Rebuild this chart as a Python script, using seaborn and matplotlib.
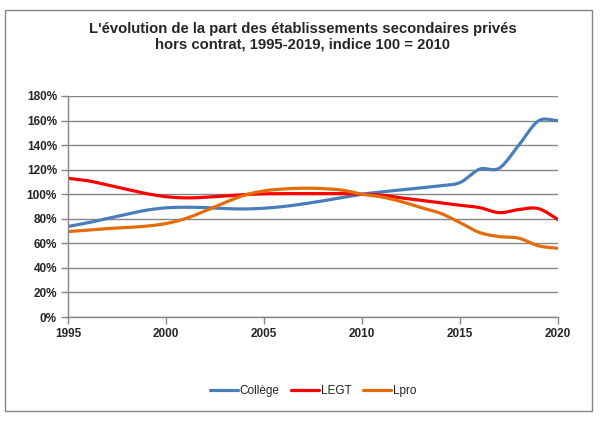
import numpy as np
import pandas as pd
import matplotlib
matplotlib.use("Agg")
import matplotlib.pyplot as plt
import matplotlib.patches as patches
from matplotlib.ticker import PercentFormatter
import seaborn as sns

years = list(range(1995, 2021))
college = [73.7, 76.7, 80.2, 83.7, 87.0, 88.9, 89.4, 89.1, 88.3, 88.0, 88.6,
           90.0, 92.1, 94.6, 97.3, 100.0, 101.9, 103.5, 105.2, 107.0, 109.5,
           120.4, 121.2, 140.0, 159.7, 160.0]
legt = [113.0, 111.0, 107.6, 104.0, 100.5, 98.0, 97.0, 97.5, 98.6, 99.7, 100.3,
        100.5, 100.5, 100.5, 100.5, 100.0, 99.2, 97.0, 95.1, 93.0, 91.0,
        89.1, 85.0, 87.5, 88.3, 79.4]
lpro = [69.6, 70.7, 72.0, 72.9, 74.0, 76.1, 80.2, 86.4, 93.2, 99.2, 102.7,
        104.3, 104.9, 104.6, 103.3, 100.0, 97.8, 94.0, 89.1, 84.5, 76.9,
        68.8, 65.5, 64.2, 58.0, 56.0]

series = {"Collège": college, "LEGT": legt, "Lpro": lpro}
colors = {"Collège": "#4a7ebb", "LEGT": "#ff0000", "Lpro": "#e46c0a"}


def smooth(x, y, n=12):
    # catmull-rom curve through the points, like excel "smoothed line"
    x = np.asarray(x, float)
    y = np.asarray(y, float)
    px = np.concatenate([[2 * x[0] - x[1]], x, [2 * x[-1] - x[-2]]])
    py = np.concatenate([[2 * y[0] - y[1]], y, [2 * y[-1] - y[-2]]])
    xs, ys = [], []
    t = np.linspace(0, 1, n, endpoint=False)
    for i in range(1, len(px) - 2):
        for p, out in ((px, xs), (py, ys)):
            p0, p1, p2, p3 = p[i - 1], p[i], p[i + 1], p[i + 2]
            out.extend(0.5 * (2 * p1 + (-p0 + p2) * t
                              + (2 * p0 - 5 * p1 + 4 * p2 - p3) * t ** 2
                              + (-p0 + 3 * p1 - 3 * p2 + p3) * t ** 3))
    xs.append(x[-1])
    ys.append(y[-1])
    return np.array(xs), np.array(ys)


frames = []
for name, vals in series.items():
    sx, sy = smooth(years, vals)
    frames.append(pd.DataFrame({"year": sx, "value": sy, "serie": name}))
df = pd.concat(frames, ignore_index=True)

sns.set_style("white")
plt.rcParams["font.family"] = ["Liberation Sans", "DejaVu Sans"]

fig = plt.figure(figsize=(6.05, 4.28), dpi=100)
ax = fig.add_axes([68 / 605, 1 - 317 / 428, 490 / 605, 221 / 428])

sns.lineplot(data=df, x="year", y="value", hue="serie", palette=colors,
             linewidth=2.3, sort=False, estimator=None, ax=ax)

ax.set_xlim(1995, 2020)
ax.set_ylim(0, 180)
ax.set_xticks(range(1995, 2021, 5))
ax.set_yticks(range(0, 181, 20))
ax.yaxis.set_major_formatter(PercentFormatter(decimals=0))
ax.set_xlabel("")
ax.set_ylabel("")
ax.grid(axis="y", color="#868686", linewidth=1)
ax.set_axisbelow(True)
for s in ["top", "right"]:
    ax.spines[s].set_visible(False)
for s in ["left", "bottom"]:
    ax.spines[s].set_color("#868686")
    ax.spines[s].set_linewidth(1)
ax.tick_params(axis="both", length=5, width=1, color="#868686",
               labelsize=8.5, pad=3, direction="out")
ax.tick_params(left=True, bottom=True)
for lab in ax.get_xticklabels() + ax.get_yticklabels():
    lab.set_fontweight("bold")

ax.legend(loc="center", bbox_to_anchor=(0.5, (391 - 317) / -221.0), ncol=3,
          frameon=False, fontsize=8.5, handlelength=2.4, handletextpad=0.1,
          columnspacing=1.0)
ax.get_legend().set_title(None)

fig.text(0.5, 1 - 37 / 428, "L'évolution de la part des établissements secondaires privés\nhors contrat, 1995-2019, indice 100 = 2010",
         ha="center", va="center", fontsize=10.7, fontweight="bold",
         linespacing=1.15)

fig.patches.append(patches.Rectangle((5 / 605, 1 - 411 / 428), 587 / 605, 401 / 428,
                                     transform=fig.transFigure, fill=False,
                                     edgecolor="#868686", linewidth=1))

fig.savefig("out.png", dpi=100)
